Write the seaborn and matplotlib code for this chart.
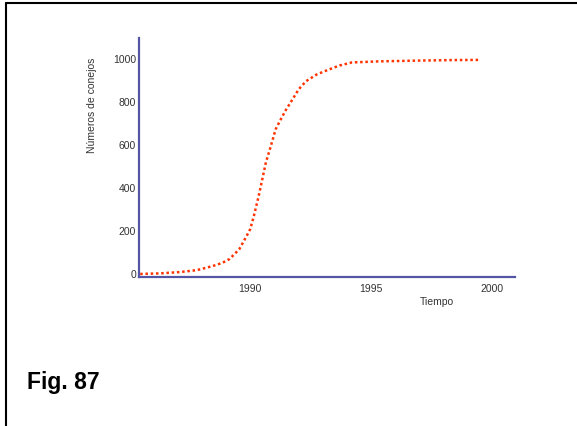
import pandas as pd
import matplotlib
matplotlib.use('Agg')
import matplotlib.pyplot as plt
from matplotlib.lines import Line2D
import seaborn as sns

# Values
years = [1985.45, 1986.3, 1987.1, 1987.8, 1988.45, 1988.85, 1989.15, 1989.55, 1989.85,
         1990.0, 1990.15, 1990.35, 1990.5, 1990.65, 1990.85, 1991.05, 1991.2, 1991.45,
         1991.7, 1992.0, 1992.3, 1992.75, 1993.25, 1993.7, 1994.2, 1995.3, 1996.2,
         1997.1, 1998.3, 1999.45]
rabbits = [0, 3, 9, 18, 37, 52, 70, 116, 177, 209, 270, 363, 442, 521, 595, 674, 707,
           760, 805, 860, 898, 930, 953, 972, 986, 991, 993, 995, 997, 998]

df = pd.DataFrame({'Tiempo': years, 'Conejos': rabbits})

sns.set_style('white')
plt.rcParams['font.family'] = ['Liberation Sans', 'DejaVu Sans']

fig = plt.figure(figsize=(5.77, 4.26), dpi=100)
ax = fig.add_axes([0.2409, 0.3498, 0.6516, 0.561])

sns.lineplot(data=df, x='Tiempo', y='Conejos', ax=ax, color='#ff3300',
             linestyle=(0, (1, 1.1)), linewidth=1.8, dashes=False)

ax.set_xlim(1985.4, 2000.95)
ax.set_ylim(-14, 1100)
ax.set_xticks([1990, 1995, 2000])
ax.set_yticks([0, 200, 400, 600, 800, 1000])
ax.tick_params(axis='both', length=0, labelsize=7.5, colors='#333333')
ax.tick_params(axis='y', pad=2)
ax.tick_params(axis='x', pad=5)
ax.set_xlabel('')
ax.set_ylabel('')

for side in ['top', 'right']:
    ax.spines[side].set_visible(False)
for side in ['left', 'bottom']:
    ax.spines[side].set_color('#5555a5')
    ax.spines[side].set_linewidth(1.6)

fig.text(92 / 577, 1 - 105 / 426, 'Números de conejos', rotation=90,
         ha='center', va='center', fontsize=7.5, color='#333333')
fig.text(437 / 577, 1 - 302 / 426, 'Tiempo', ha='center', va='center',
         fontsize=7.5, color='#333333')
fig.text(27 / 577, 1 - 383 / 426, 'Fig. 87', ha='left', va='center',
         fontsize=16.5, fontweight='bold', color='black')

# frame lines at top and left of the page
fig.add_artist(Line2D([5.5 / 577, 1.0], [1 - 2.5 / 426, 1 - 2.5 / 426],
                      transform=fig.transFigure, color='black', linewidth=1.5))
fig.add_artist(Line2D([5.5 / 577, 5.5 / 577], [0, 1 - 2.5 / 426],
                      transform=fig.transFigure, color='black', linewidth=1.5))

fig.savefig('out.png', dpi=100)
